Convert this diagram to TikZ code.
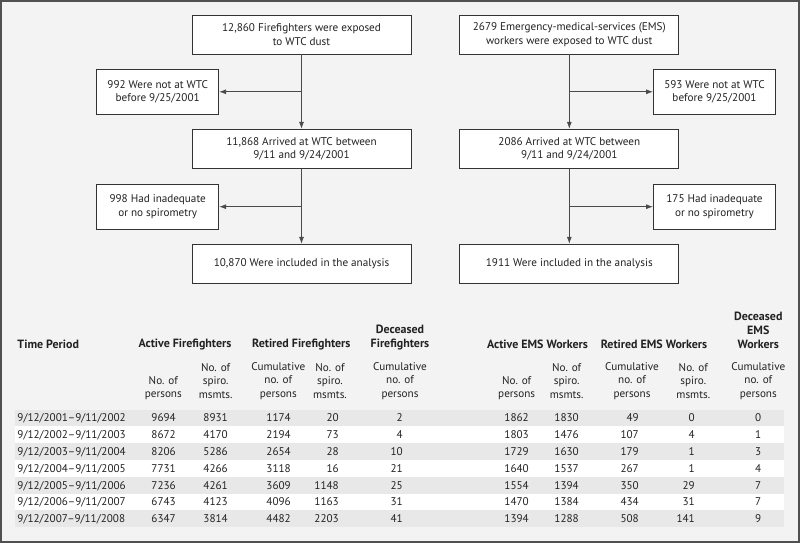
\documentclass[tikz,border=0pt]{standalone}
\usepackage{fontspec}
\setmainfont{PT Sans}
\usetikzlibrary{arrows.meta,calc}
\definecolor{framegray}{HTML}{505050}
\definecolor{panelbg}{HTML}{F3F3F3}
\definecolor{rowshade}{HTML}{E8E8E8}
\definecolor{boxline}{HTML}{333333}
\definecolor{arrgray}{HTML}{4A4A4A}
\definecolor{txtgray}{HTML}{222222}
\tikzset{
  flowbox/.style={draw=boxline,fill=white,line width=0.8bp,inner sep=0pt,align=center,text=txtgray,
    font=\fontsize{11.2}{14}\selectfont,minimum width=219bp,minimum height=39bp},
  exbox/.style={flowbox,minimum width=122bp,minimum height=45bp},
  flowarr/.style={arrgray,line width=0.9bp,-{Latex[length=7bp,width=5bp]}},
  headtxt/.style={font=\fontsize{12}{14}\selectfont\bfseries,align=center,inner sep=0pt,text=txtgray},
  subtxt/.style={font=\fontsize{11.2}{13.5}\selectfont,align=center,inner sep=0pt,text=txtgray},
  celltxt/.style={font=\fontsize{11.2}{14}\selectfont,inner sep=0pt,anchor=east,text=txtgray,text height=7.8bp,text depth=0pt}
}

\begin{document}
\begin{tikzpicture}[x=1bp,y=-1bp]
\useasboundingbox (0,0) rectangle (800,543);
\draw[framegray,line width=2bp,fill=panelbg] (1,1) rectangle (799,542);

% flow chart, firefighters
\node[flowbox] (ffexp) at (301.5,34.5) {12,860 Firefighters were exposed\\to WTC dust};
\node[exbox] (ffnot) at (157.7,91.8) {992 Were not at WTC\\before 9/25/2001};
\node[flowbox] (ffarr) at (301.5,148.8) {11,868 Arrived at WTC between\\9/11 and 9/24/2001};
\node[exbox] (ffspi) at (157.7,206.7) {998 Had inadequate\\or no spirometry};
\node[flowbox] (ffinc) at (301.5,263.8) {10,870 Were included in the analysis};
\coordinate (ffj1) at (ffexp.south |- ffnot.east); \coordinate (ffj2) at (ffarr.south |- ffspi.east);
\draw[flowarr] (ffexp) -- (ffarr); \draw[flowarr] (ffarr) -- (ffinc);
\draw[flowarr] (ffj1) -- (ffnot); \draw[flowarr] (ffj2) -- (ffspi);

% flow chart, EMS workers
\node[flowbox] (emexp) at (569.3,34.5) {2679 Emergency-medical-services (EMS)\\workers were exposed to WTC dust};
\node[exbox] (emnot) at (714.5,91.8) {593 Were not at WTC\\before 9/25/2001};
\node[flowbox] (emarr) at (569.3,148.8) {2086 Arrived at WTC between\\9/11 and 9/24/2001};
\node[exbox] (emspi) at (714.5,206.7) {175 Had inadequate\\or no spirometry};
\node[flowbox] (eminc) at (569.3,263.8) {1911 Were included in the analysis};
\coordinate (emj1) at (emexp.south |- emnot.west); \coordinate (emj2) at (emarr.south |- emspi.west);
\draw[flowarr] (emexp) -- (emarr); \draw[flowarr] (emarr) -- (eminc);
\draw[flowarr] (emj1) -- (emnot); \draw[flowarr] (emj2) -- (emspi);

% table header
\node[headtxt,anchor=west] (thtime) at (17.3,344.3) {Time Period};
\node[headtxt] (thaff) at (185,344.3) {Active Firefighters};
\node[headtxt] (thrff) at (301.3,344.3) {Retired Firefighters};
\node[headtxt] (thdff) at (400,337.2) {Deceased\\Firefighters};
\node[headtxt] (thaem) at (537.5,344.3) {Active EMS Workers};
\node[headtxt] (threm) at (654,344.3) {Retired EMS Workers};
\node[headtxt] (thdem) at (758.3,330.2) {Deceased\\EMS\\Workers};
\node[subtxt] (shaffp) at (163.3,388) {No. of\\persons};
\node[subtxt] (shaffs) at (215.7,381) {No. of\\spiro.\\msmts.};
\node[subtxt] (shrffc) at (278.3,381) {Cumulative\\no. of\\persons};
\node[subtxt] (shrffs) at (330,381) {No. of\\spiro.\\msmts.};
\node[subtxt] (shdffc) at (400,381) {Cumulative\\no. of\\persons};
\node[subtxt] (shaemp) at (516.7,388) {No. of\\persons};
\node[subtxt] (shaems) at (566.7,381) {No. of\\spiro.\\msmts.};
\node[subtxt] (shremc) at (632,381) {Cumulative\\no. of\\persons};
\node[subtxt] (shrems) at (693.3,381) {No. of\\spiro.\\msmts.};
\node[subtxt] (shdemc) at (758.3,381) {Cumulative\\no. of\\persons};

% table rows
\foreach \i in {1,...,7}{
  \pgfmathsetmacro{\ry}{418+(\i-1)*16.8}
  \pgfmathparse{isodd(\i)?"rowshade":"white"}
  \fill[\pgfmathresult] (15,\ry-8.4) rectangle (784,\ry+8.4);
}
\foreach \yr/\va/\vb/\vc/\vd/\ve/\vf/\vg/\vh/\vk/\vl [count=\i] in {
  2001/9694/8931/1174/20/2/1862/1830/49/0/0,
  2002/8672/4170/2194/73/4/1803/1476/107/4/1,
  2003/8206/5286/2654/28/10/1729/1630/179/1/3,
  2004/7731/4266/3118/16/21/1640/1537/267/1/4,
  2005/7236/4261/3609/1148/25/1554/1394/350/29/7,
  2006/6743/4123/4096/1163/31/1470/1384/434/31/7,
  2007/6347/3814/4482/2203/41/1394/1288/508/141/9}{
  \pgfmathsetmacro{\ry}{418+(\i-1)*16.8}
  \node[celltxt,anchor=west] (r\i-per) at (17.3,\ry) {9/12/\yr--9/11/\the\numexpr\yr+1\relax};
  \node[celltxt] (r\i-a) at (176,\ry) {\va};
  \node[celltxt] (r\i-b) at (228,\ry) {\vb};
  \node[celltxt] (r\i-c) at (291,\ry) {\vc};
  \node[celltxt] (r\i-d) at (339,\ry) {\vd};
  \node[celltxt] (r\i-e) at (403,\ry) {\ve};
  \node[celltxt] (r\i-f) at (529,\ry) {\vf};
  \node[celltxt] (r\i-g) at (579,\ry) {\vg};
  \node[celltxt] (r\i-h) at (639,\ry) {\vh};
  \node[celltxt] (r\i-k) at (695,\ry) {\vk};
  \node[celltxt] (r\i-l) at (761.5,\ry) {\vl};
}
\end{tikzpicture}
\end{document}
